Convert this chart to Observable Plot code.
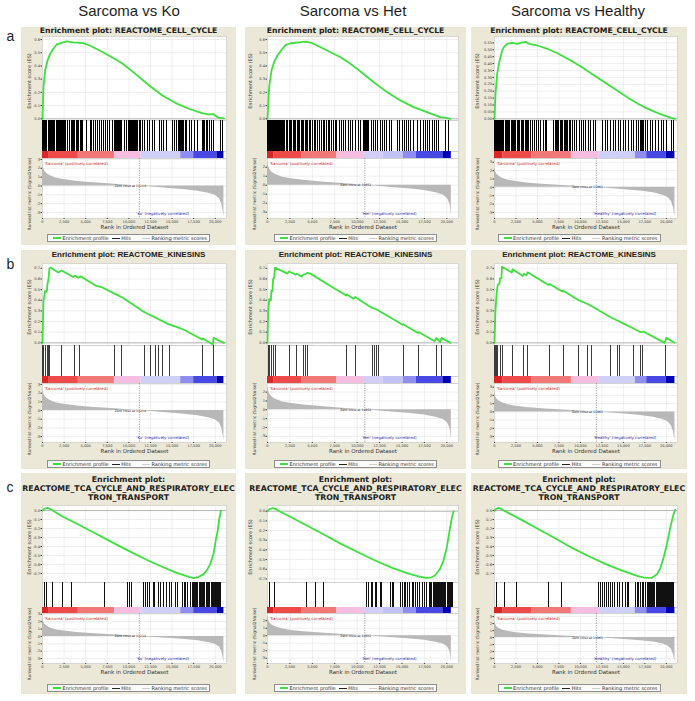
<!DOCTYPE html>
<html>
<head>
<meta charset="utf-8">
<script src="https://cdn.jsdelivr.net/npm/d3@7"></script>
<script src="https://cdn.jsdelivr.net/npm/@observablehq/plot@0.6"></script>
<style>
html,body{margin:0;padding:0;background:#fff}
#root{position:relative;width:695px;height:701px;overflow:hidden;font-family:"Liberation Sans",Arial,sans-serif}
.hdr{position:absolute;top:3.3px;font-size:15px;line-height:15px;color:#1e1e1e;white-space:nowrap;transform:translateX(-50%)}
.letter{position:absolute;left:6.5px;font-size:14px;line-height:14px;color:#1e1e1e}
.panel{position:absolute;background:#ebe8d7}
.ttl{position:absolute;left:-10px;right:-10px;text-align:center;font-weight:bold;color:#222;white-space:nowrap}
.part{position:absolute;left:0}
.part svg{display:block;overflow:visible}
.ylab{position:absolute;white-space:nowrap;font-family:"DejaVu Sans",sans-serif;color:#3a3a3a;transform:translate(-50%,-50%) rotate(-90deg)}
.legend{position:absolute;height:8px;border:0.8px solid #8e8e8e;background:#fbfbfb;box-sizing:border-box;display:flex;align-items:center;justify-content:center;font-family:"DejaVu Sans",sans-serif;font-size:5px;color:#333;white-space:nowrap}
.sw{display:inline-block;flex:none;width:8px;height:1px;margin:0 1.5px 0 3px}
</style>
</head>
<body>
<div id="root"></div>
<script>
// ---------------- data ----------------
const columnTitles = ["Sarcoma vs Ko", "Sarcoma vs Het", "Sarcoma vs Healthy"];
const groupNames = ["Ko", "Het", "Healthy"];
const zeroCross = [11214, 10852, 11861];
const rowLetters = ["a", "b", "c"];
const titleLines = [
  ["Enrichment plot: REACTOME_CELL_CYCLE"],
  ["Enrichment plot: REACTOME_KINESINS"],
  ["Enrichment plot:", "REACTOME_TCA_CYCLE_AND_RESPIRATORY_ELEC", "TRON_TRANSPORT"]
];
const xTicks = [0, 2500, 5000, 7500, 10000, 12500, 15000, 17500, 20000];
const esTicksCell = [0, 0.1, 0.2, 0.3, 0.4, 0.5, 0.6];
const esTicksCellHealthy = [0, 0.05, 0.1, 0.15, 0.2, 0.25, 0.3, 0.35, 0.4, 0.45, 0.5, 0.55];
const esTicksKin = [0, 0.1, 0.2, 0.3, 0.4, 0.5, 0.6, 0.7];
const esTicksTca = [-0.7, -0.6, -0.5, -0.4, -0.3, -0.2, -0.1, 0];
const rankTicksKo = [-3, -2, -1, 0, 1, 2, 3];
const rankTicksHet = [-3, -2, -1, 0, 1, 2];
const rankTicksHealthy = [-3, -2, -1, 0, 1, 2, 3];

// ranked list metric (Signal2Noise) per comparison: [rank, metric]
const rankedKo = [[0,2.5],[80,2.1],[250,1.7],[500,1.4],[900,1.15],[1600,0.88],[2500,0.72],[4000,0.52],[6000,0.36],[8000,0.22],[9500,0.12],[11214,0],[13000,-0.14],[15000,-0.3],[16500,-0.42],[18000,-0.6],[19200,-0.82],[20000,-1.05],[20500,-1.45],[20750,-2.0],[20900,-2.8],[21000,-3.5]];
const rankedHet = [[0,2.6],[80,2.2],[250,1.75],[500,1.45],[900,1.2],[1600,0.92],[2500,0.75],[4000,0.54],[6000,0.36],[8000,0.21],[9500,0.1],[10852,0],[12500,-0.14],[14500,-0.3],[16000,-0.43],[17500,-0.6],[18800,-0.85],[19600,-1.1],[20100,-1.5],[20350,-2.1],[20450,-2.8],[20500,-3.5]];
const rankedHealthy = [[0,2.4],[80,2.0],[250,1.6],[500,1.35],[900,1.1],[1600,0.86],[2500,0.7],[4000,0.5],[6000,0.35],[8000,0.22],[10000,0.1],[11861,0],[13500,-0.13],[15500,-0.3],[17000,-0.44],[18500,-0.65],[19500,-0.9],[20200,-1.2],[20600,-1.7],[20850,-2.5],[21000,-3.5]];

// colour bar blocks: [start rank, end rank, correlation level]
const barKo = [[0,700,1],[700,4150,0.8],[4150,8330,0.6],[8330,11400,0.3],[11400,16000,-0.3],[16000,17500,-0.55],[17500,20200,-0.78],[20200,21000,-1]];
const barHet = [[0,740,1],[740,3870,0.8],[3870,7750,0.6],[7750,10700,0.3],[10700,12900,-0.25],[12900,15130,-0.35],[15130,16600,-0.55],[16600,19560,-0.78],[19560,20500,-1]];
const barHealthy = [[0,950,1],[950,4380,0.8],[4380,8950,0.6],[8950,12190,0.3],[12190,16380,-0.3],[16380,17720,-0.55],[17720,20000,-0.78],[20000,21000,-1]];

// running enrichment score: [rank, ES]
const esCellKo = [[0,0],[115,0.24],[306,0.366],[573,0.44],[880,0.49],[1262,0.53],[1644,0.563],[2218,0.575],[2791,0.586],[3556,0.578],[4704,0.573],[5468,0.555],[6615,0.517],[8145,0.462],[9292,0.417],[10822,0.336],[12351,0.252],[13881,0.177],[15411,0.119],[16940,0.076],[18470,0.043],[19235,0.033],[19808,0.035],[20382,0.008],[21000,0.003]];
const esCellHet = [[0,0],[185,0.24],[444,0.365],[741,0.43],[1111,0.48],[1667,0.53],[2037,0.56],[2593,0.572],[3704,0.58],[4259,0.585],[5000,0.572],[5926,0.542],[7037,0.504],[8148,0.466],[9259,0.416],[10370,0.358],[11852,0.277],[13333,0.202],[14815,0.139],[16296,0.088],[17778,0.05],[19259,0.013],[19815,0.008],[20400,0]];
const esCellHealthy = [[0,0],[117,0.18],[312,0.326],[585,0.42],[897,0.495],[1092,0.519],[1482,0.543],[2067,0.55],[2652,0.543],[3042,0.55],[3627,0.557],[4017,0.543],[4992,0.531],[6162,0.507],[7332,0.475],[8892,0.422],[10452,0.362],[12012,0.297],[13572,0.234],[15132,0.169],[16692,0.109],[17862,0.072],[19032,0.041],[19812,0.024],[20592,0.007],[21000,0]];
const esKinKo = [[0,0],[30,0.11],[115,0.39],[306,0.487],[497,0.48],[573,0.55],[688,0.596],[803,0.7],[956,0.706],[1835,0.66],[2218,0.68],[3556,0.618],[3747,0.631],[4130,0.612],[4398,0.625],[6233,0.534],[6807,0.524],[8528,0.455],[9292,0.424],[11586,0.298],[12160,0.273],[13881,0.204],[14646,0.173],[15984,0.135],[16558,0.116],[18470,0.031],[18561,0.041],[19732,-0.016],[19800,0.047],[20573,0.016],[21000,0]];
const esKinHet = [[0,0],[74,0.28],[185,0.41],[369,0.4],[443,0.49],[554,0.485],[627,0.6],[738,0.61],[849,0.706],[2214,0.65],[2400,0.67],[3137,0.64],[3247,0.65],[3801,0.62],[3985,0.64],[4244,0.645],[4428,0.657],[4797,0.65],[6642,0.553],[8782,0.445],[8856,0.455],[9594,0.414],[9779,0.43],[11624,0.33],[12177,0.313],[13653,0.24],[15055,0.17],[15129,0.175],[16790,0.092],[16863,0.101],[18634,0.015],[18819,0.046],[19262,0.006],[19410,0.046],[20400,0]];
const esKinHealthy = [[0,0],[76,0.22],[114,0.31],[190,0.4],[267,0.48],[381,0.545],[572,0.553],[648,0.606],[800,0.606],[876,0.715],[2020,0.66],[2096,0.69],[3315,0.628],[3430,0.647],[3734,0.634],[3848,0.662],[6287,0.544],[6400,0.553],[7887,0.482],[8001,0.49],[9716,0.404],[10783,0.367],[11240,0.348],[13450,0.243],[14288,0.21],[14516,0.202],[16117,0.137],[17031,0.1],[17336,0.106],[19812,0],[20003,0.047],[20955,0]];
const esTcaKo = [[0,0],[189,0.019],[566,0.03],[943,0.015],[1508,-0.019],[2262,-0.063],[4147,-0.156],[6032,-0.25],[7917,-0.346],[9802,-0.44],[11687,-0.53],[13572,-0.614],[15457,-0.69],[16965,-0.737],[17530,-0.752],[18096,-0.737],[18661,-0.707],[19038,-0.663],[19415,-0.596],[19792,-0.484],[20056,-0.335],[20283,-0.223],[20471,-0.093],[20660,0]];
const esTcaHet = [[0,0],[190,0.02],[571,0.031],[876,0.024],[1333,0],[2476,-0.055],[4381,-0.148],[6286,-0.241],[8191,-0.338],[10096,-0.424],[12002,-0.51],[13907,-0.586],[15811,-0.648],[16954,-0.676],[17716,-0.69],[18288,-0.683],[18669,-0.665],[19240,-0.597],[19621,-0.51],[20002,-0.372],[20307,-0.2],[20574,-0.062],[20764,0]];
const esTcaHealthy = [[0,0],[154,0.015],[462,0.03],[846,0.015],[1231,-0.007],[3154,-0.104],[5077,-0.205],[7000,-0.305],[8923,-0.41],[10846,-0.503],[12769,-0.588],[14692,-0.663],[16615,-0.726],[17385,-0.745],[18346,-0.748],[18923,-0.707],[19308,-0.64],[19692,-0.52],[20077,-0.372],[20462,-0.186],[20846,-0.037],[21038,0.007]];

// gene-set hit ranks
const hitsCellKo = [20,80,150,230,300,380,450,700,790,880,960,1050,1150,1240,1330,1420,1650,1740,1830,1950,2050,2160,2280,2380,2520,2700,2880,3170,3300,3420,3600,3750,3900,4050,4200,4380,4550,4680,5050,5500,5700,5900,6150,6400,6600,6850,7100,7300,7550,7800,8050,8330,8420,8520,8610,8700,8800,8900,9000,9100,9200,9450,9700,9950,10100,10200,10300,10400,10520,10650,10780,10900,11050,11200,11350,11600,11850,12100,12400,12700,12950,13500,13750,14000,14300,15050,15250,15500,15800,15900,16000,16120,16250,16380,16500,16650,17000,17300,17600,17900,18500,18650,18800,18950,19150,19350,19550,19800,20650,20850];
const hitsCellHet = [30,120,220,320,420,520,620,720,820,920,1020,1120,1220,1320,1420,1520,1620,1720,1820,1950,2100,2250,2400,2550,2700,2850,3000,3150,3300,3450,3600,3750,3900,4050,4200,4350,4500,4650,4850,5050,5250,5400,5600,5800,6000,6200,6400,6550,6750,6950,7150,7350,7550,7750,8000,8250,8500,8750,9000,9250,9500,9800,10100,10400,10700,10800,10900,11000,11100,11300,11550,11800,12050,12300,12550,12800,13050,13300,13550,13800,14500,14750,15000,15250,15500,15750,16000,16250,16700,17100,17350,17600,17850,18100,18350,18600,18850,19100,19900,20150];
const hitsCellHealthy = [20,110,200,300,400,500,600,700,800,900,1000,1100,1250,1400,1500,1650,1800,1950,2100,2250,2350,2500,2650,2800,2950,3100,3250,3400,3550,3700,3850,4000,4150,4400,4650,4900,5150,5400,5650,5900,6100,6900,7050,7200,7350,7500,7650,7800,7950,8100,8250,8400,8550,8700,8850,9100,9350,9600,9850,10100,10350,10600,10900,11200,11500,11800,12600,12900,13200,13500,13800,14100,14400,14700,15000,15300,15600,15900,16200,16500,16800,16950,17100,17250,17400,17550,17800,18100,18400,18700,19100,19400,19700,20000,20650,20850];
const hitsKinKo = [30,115,300,390,560,690,800,2220,3650,4300,8340,9100,11780,12550,13040,13420,13880,14650,18520,19760];
const hitsKinHet = [74,185,443,627,849,2400,3247,3985,4244,4428,8856,9779,11734,11918,12103,12361,15129,16863,18819,19410];
const hitsKinHealthy = [40,76,114,190,267,381,648,876,2096,3430,3848,6400,8001,9792,10783,11240,13526,14288,14593,16193,17031,17259,19928];
const hitsTcaKo = [189,452,1131,2337,3393,7163,9802,10066,10254,11687,11876,12139,12366,12818,12931,13459,13685,14024,14326,14703,14892,15344,15683,16211,16400,16588,16777,17079,17342,17530,17640,17760,17870,17980,18210,18320,18440,18550,18660,18780,19000,19120,19230,19340,19570,19680,19800,19910,20020,20140,20250,20360,20480,20590];
const hitsTcaHet = [267,762,4381,5334,6286,11049,11240,11544,11735,12002,12192,12573,12764,13716,13907,14097,14859,15049,15240,15430,15621,15811,16116,16268,16497,16764,16954,17335,17526,17716,18100,18220,18340,18460,18580,18700,18820,18940,19060,19180,19300,19420,19540,19660,19780,19900,20020,20140,20260,20380,20500,20620];
const hitsTcaHealthy = [269,1154,2577,6308,7846,12077,12308,12577,12769,13077,13269,13538,13731,14000,14308,14500,14885,15269,15462,15654,16423,16615,16808,17000,17192,17385,17577,17769,17960,18080,18200,18320,18440,18560,18680,18800,18920,19040,19160,19280,19400,19520,19640,19760,19880,20000,20120,20240,20360,20480,20600,20720,20840];

// ---------------- assembly ----------------
const esData = [[esCellKo, esCellHet, esCellHealthy], [esKinKo, esKinHet, esKinHealthy], [esTcaKo, esTcaHet, esTcaHealthy]];
const hitData = [[hitsCellKo, hitsCellHet, hitsCellHealthy], [hitsKinKo, hitsKinHet, hitsKinHealthy], [hitsTcaKo, hitsTcaHet, hitsTcaHealthy]];
const esTickSets = [[esTicksCell, esTicksCell, esTicksCellHealthy], [esTicksKin, esTicksKin, esTicksKin], [esTicksTca, esTicksTca, esTicksTca]];
const rankedData = [rankedKo, rankedHet, rankedHealthy];
const barData = [barKo, barHet, barHealthy];
const rankTickSets = [rankTicksKo, rankTicksHet, rankTicksHealthy];

// scale settings
const XMAX = 21300;
const esDomains = [
  [[-0.013, 0.623], [-0.013, 0.623], [-0.012, 0.596]],
  [[-0.025, 0.745], [-0.025, 0.745], [-0.025, 0.745]],
  [[-0.80, 0.056], [-0.737, 0.059], [-0.80, 0.056]]
];
const rankDomains = [[-3.68, 3.11], [-3.7, 2.97], [-3.72, 3.45]];
const GREEN = "#3de03d";
const colorDomain = [-1, -0.78, -0.55, -0.3, 0.3, 0.6, 0.8, 1];
const colorRange = ["#0000b4", "#4848e4", "#8e8ef0", "#cfcff8", "#f5bde0", "#f27878", "#ee4a4a", "#dc2626"];

// layout
const COLS = [
  {left: 21, width: 215, ml: 21, mr: 10, hdr: 129, esLabX: 8, rkLabX: 8},
  {left: 245, width: 221, ml: 22, mr: 8, hdr: 353, esLabX: 5, rkLabX: 9},
  {left: 471, width: 216, ml: 23, mr: 10, hdr: 578, esLabX: 6, rkLabX: 6}
];
const ROWS = [
  {top: 27, height: 218, letterTop: 29, titleTop: -0.2, titleSize: 7.7, titleLH: 7.7, titleFont: "'DejaVu Sans',sans-serif", es: [9, 93], hits: [93, 124], cb: [124, 131], rk: [131, 191], legend: 207, hitColor: "#000"},
  {top: 250, height: 219, letterTop: 257, titleTop: 1.4, titleSize: 8, titleLH: 8, titleFont: "'Liberation Sans',Arial,sans-serif", es: [13, 95], hits: [95, 126], cb: [126, 133], rk: [133, 192], legend: 210, hitColor: "#3c3c3c"},
  {top: 473, height: 221, letterTop: 480, titleTop: 1.6, titleSize: 7.8, titleLH: 9.4, titleFont: "'DejaVu Sans',sans-serif", es: [32, 109], hits: [109, 134], cb: [134, 140], rk: [140, 190], legend: 211, hitColor: "#111"}
];

const root = document.getElementById("root");
function add(tag, cls, parent) {
  const e = document.createElement(tag);
  if (cls) e.className = cls;
  parent.appendChild(e);
  return e;
}
const baseStyle = {background: "transparent", overflow: "visible", color: "#3a3a3a", fontFamily: "'DejaVu Sans',sans-serif"};
const TICK_FS = 3.6;
const fmtX = d3.format(",");

columnTitles.forEach((t, c) => {
  const h = add("div", "hdr", root);
  h.style.left = COLS[c].hdr + "px";
  h.textContent = t;
});
rowLetters.forEach((t, r) => {
  const l = add("div", "letter", root);
  l.style.top = ROWS[r].letterTop + "px";
  l.textContent = t;
});

function placePart(panel, top, svg) {
  const d = add("div", "part", panel);
  d.style.top = top + "px";
  d.appendChild(svg);
}

function buildPanel(r, c) {
  const col = COLS[c], L = ROWS[r];
  const panel = add("div", "panel", root);
  Object.assign(panel.style, {left: col.left + "px", top: L.top + "px", width: col.width + "px", height: L.height + "px"});

  const t = add("div", "ttl", panel);
  Object.assign(t.style, {top: L.titleTop + "px", fontSize: L.titleSize + "px", lineHeight: L.titleLH + "px", fontFamily: L.titleFont});
  titleLines[r].forEach(line => { const s = add("div", null, t); s.textContent = line; });

  const common = {width: col.width, marginLeft: col.ml, marginRight: col.mr, marginTop: 0, style: baseStyle};
  const ticks = esTickSets[r][c];
  const esFmt = ticks === esTicksCellHealthy ? (d => d.toFixed(2)) : (d => d.toFixed(1));

  // enrichment score plot
  placePart(panel, L.es[0], Plot.plot({
    ...common,
    height: L.es[1] - L.es[0], marginBottom: 0,
    x: {domain: [0, XMAX], axis: null},
    y: {domain: esDomains[r][c]},
    marks: [
      Plot.frame({fill: "white", stroke: "#c2c2c2", strokeWidth: 0.6}),
      Plot.gridX(xTicks, {stroke: "#dedede", strokeOpacity: 1, strokeWidth: 0.5}),
      Plot.gridY(ticks, {stroke: "#dedede", strokeOpacity: 1, strokeWidth: 0.5}),
      Plot.ruleY([0], {stroke: "#a8a8a8", strokeWidth: 0.8}),
      Plot.line(esData[r][c], {x: d => d[0], y: d => d[1], stroke: GREEN, strokeWidth: 1.8}),
      Plot.axisY(ticks, {tickSize: 1.5, tickPadding: 1, fontSize: TICK_FS, tickFormat: esFmt, label: null})
    ]
  }));

  // hits
  placePart(panel, L.hits[0], Plot.plot({
    ...common,
    height: L.hits[1] - L.hits[0], marginBottom: 0,
    x: {domain: [0, XMAX], axis: null},
    marks: [
      Plot.frame({fill: "white", stroke: "#c2c2c2", strokeWidth: 0.6}),
      Plot.ruleX(hitData[r][c], {x: d => d, stroke: L.hitColor, strokeWidth: 1, shapeRendering: "crispEdges"})
    ]
  }));

  // colour bar
  placePart(panel, L.cb[0], Plot.plot({
    ...common,
    height: L.cb[1] - L.cb[0], marginBottom: 0,
    x: {domain: [0, XMAX], axis: null},
    color: {type: "linear", domain: colorDomain, range: colorRange, interpolate: "rgb"},
    marks: [
      Plot.frame({fill: "white", stroke: "#c2c2c2", strokeWidth: 0.6}),
      Plot.rect(barData[c], {x1: d => d[0], x2: d => d[1], fill: d => d[2]})
    ]
  }));

  // ranked list metric
  const rkH = L.rk[1] - L.rk[0];
  placePart(panel, L.rk[0], Plot.plot({
    ...common,
    height: rkH + 22, marginBottom: 22,
    x: {domain: [0, XMAX]},
    y: {domain: rankDomains[c]},
    marks: [
      Plot.frame({fill: "white", stroke: "#c2c2c2", strokeWidth: 0.6}),
      Plot.gridX(xTicks, {stroke: "#dedede", strokeOpacity: 1, strokeWidth: 0.5}),
      Plot.gridY(rankTickSets[c], {stroke: "#dedede", strokeOpacity: 1, strokeWidth: 0.5}),
      Plot.areaY(rankedData[c], {x: d => d[0], y: d => d[1], fill: "#b8b8b8"}),
      Plot.ruleX([zeroCross[c]], {x: d => d, stroke: "#6a6a80", strokeWidth: 0.6, strokeDasharray: "1.2,1.2"}),
      Plot.text(["'Sarcoma' (positively correlated)"], {text: d => d, frameAnchor: "top-left", dx: 2, dy: 3.4, textAnchor: "start", fontSize: 3.9, fill: "#c42020"}),
      Plot.text([`Zero cross at ${zeroCross[c]}`], {text: d => d, x: zeroCross[c], y: 0, dx: -9, fontSize: 3.1, fill: "#222"}),
      Plot.text([`'${groupNames[c]}' (negatively correlated)`], {text: d => d, x: zeroCross[c], frameAnchor: "bottom", dx: -3, dy: -4, textAnchor: "start", fontSize: 3.9, fill: "#2a2aa8"}),
      Plot.axisY(rankTickSets[c], {tickSize: 1.5, tickPadding: 1, fontSize: TICK_FS, tickFormat: d => String(d), label: null}),
      Plot.axisX(xTicks, {tickSize: 1, tickPadding: 0.5, fontSize: TICK_FS, tickFormat: fmtX, label: null}),
      Plot.text(["Rank in Ordered Dataset"], {text: d => d, frameAnchor: "bottom", dy: 10, fontSize: 5.5, fill: "#333"})
    ]
  }));

  // axis titles
  const yl1 = add("div", "ylab", panel);
  Object.assign(yl1.style, {left: col.esLabX + "px", top: ((L.es[0] + L.es[1]) / 2 + 3) + "px", fontSize: "5px"});
  yl1.textContent = "Enrichment score (ES)";
  const yl2 = add("div", "ylab", panel);
  Object.assign(yl2.style, {left: col.rkLabX + "px", top: ((L.rk[0] + L.rk[1]) / 2 + 6) + "px", fontSize: "4.4px"});
  yl2.textContent = "Ranked list metric (Signal2Noise)";

  // legend
  const lg = add("div", "legend", panel);
  Object.assign(lg.style, {left: ((col.width - 163) / 2) + "px", top: L.legend + "px", width: "163px"});
  const items = [["Enrichment profile", GREEN, 0, 1.2], ["Hits", "#222", 0, 0.7], ["Ranking metric scores", "#cfcfcf", 8, 0.7]];
  items.forEach(([label, color, gap, h]) => {
    const s = add("span", "sw", lg);
    s.style.background = color;
    s.style.height = h + "px";
    if (gap) s.style.marginLeft = (3 + gap) + "px";
    const tx = add("span", null, lg);
    tx.textContent = label;
  });
}

for (let r = 0; r < 3; r++) for (let c = 0; c < 3; c++) buildPanel(r, c);
</script>
</body>
</html>
